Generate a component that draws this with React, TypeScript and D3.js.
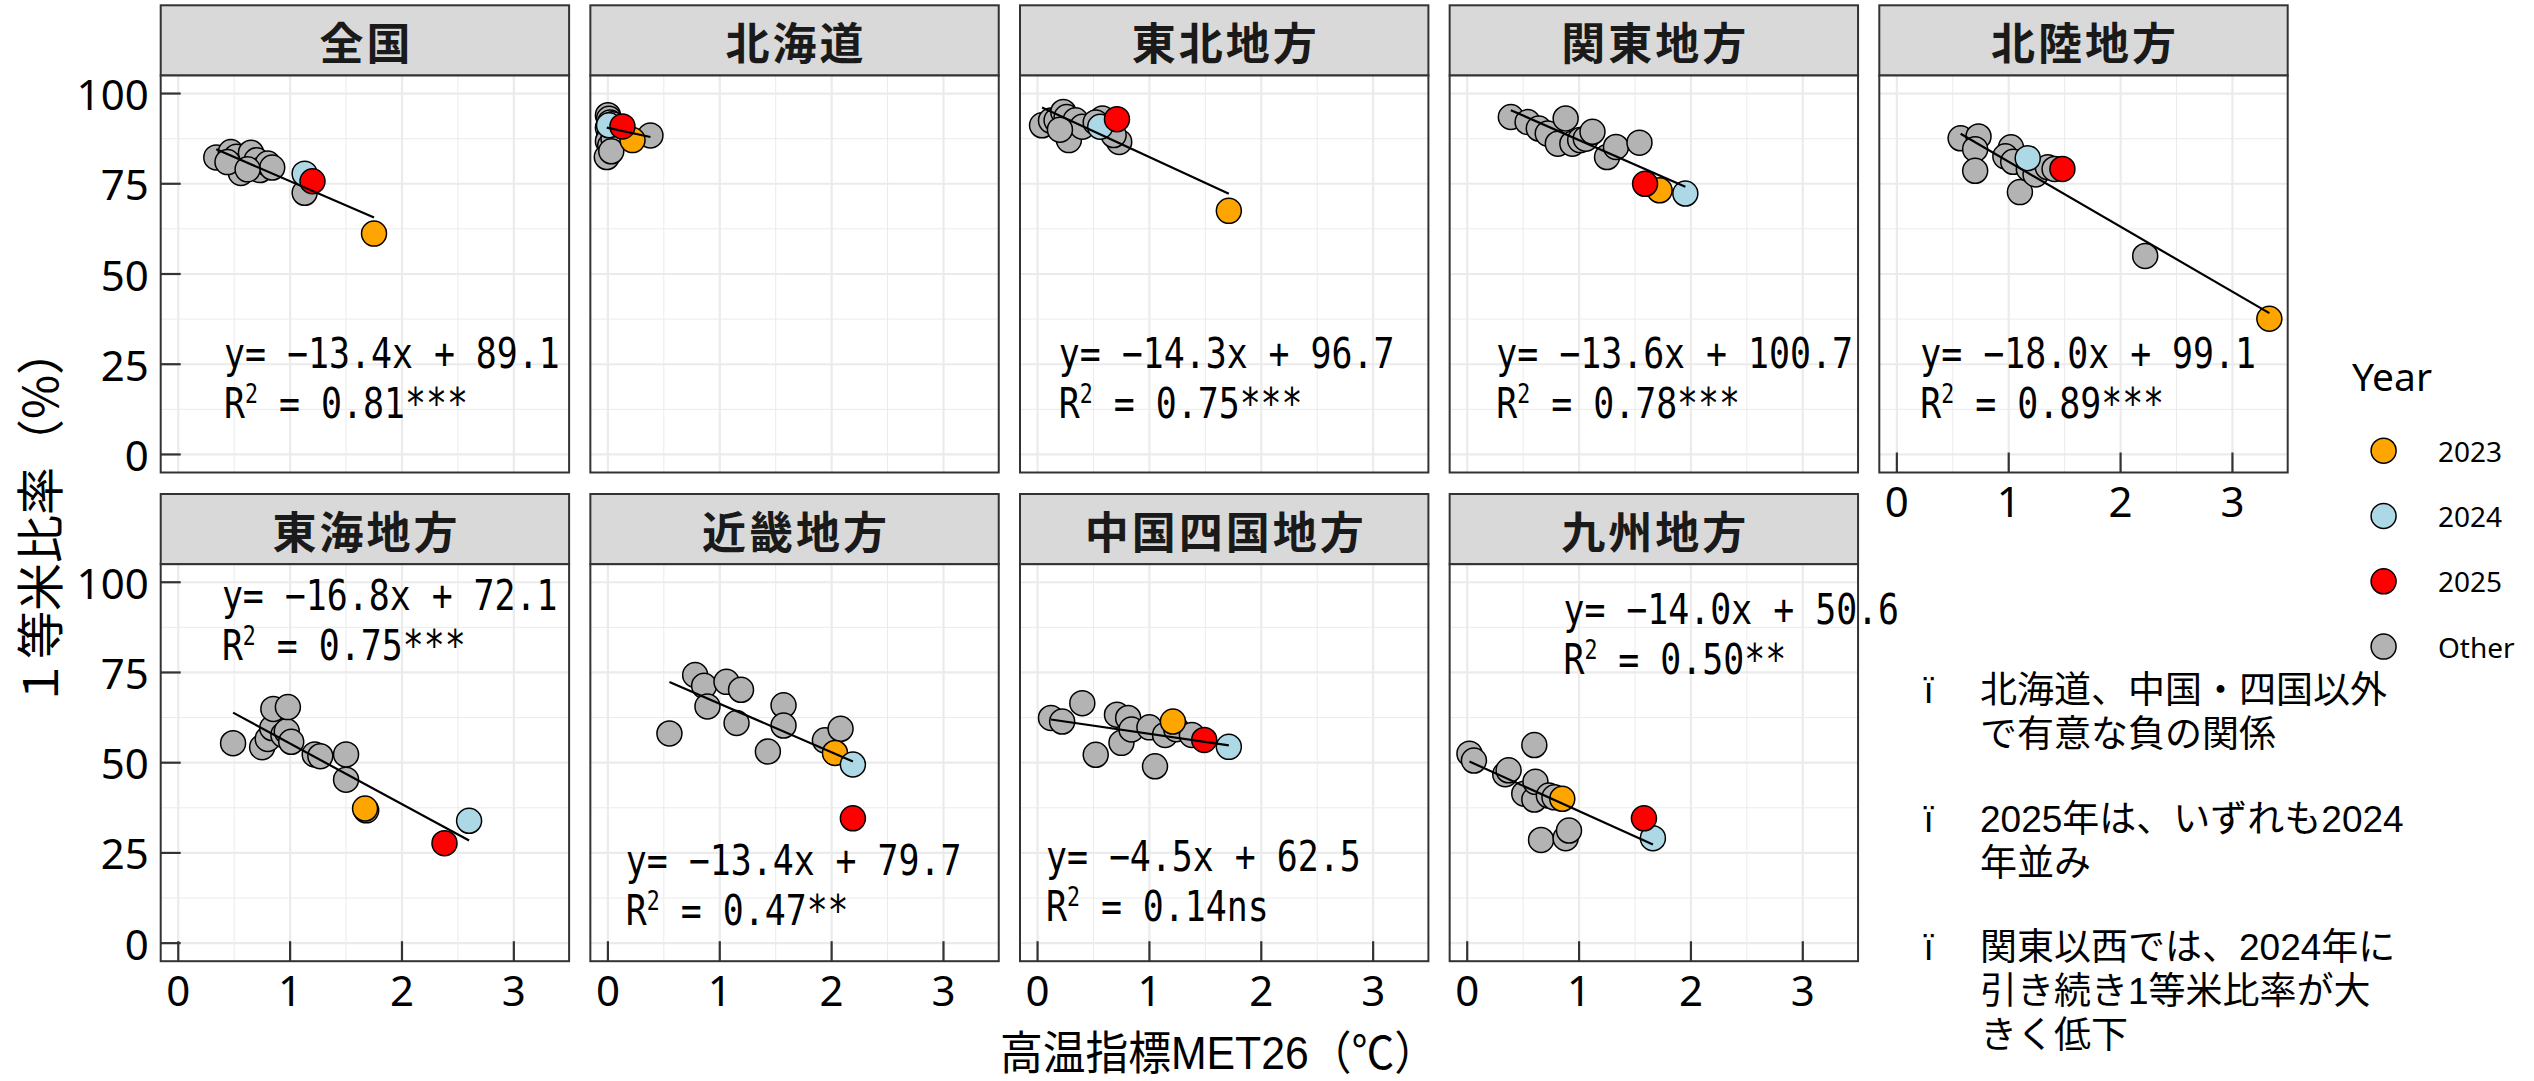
import React from "react";
import * as d3 from "d3";

// ---------- data ----------
const regions = ["全国", "北海道", "東北地方", "関東地方", "北陸地方", "東海地方", "近畿地方", "中国四国地方", "九州地方"];

const otherX: number[][] = [
  [0.34, 0.47, 0.52, 0.56, 0.60, 0.65, 0.70, 0.73, 0.80, 0.84, 0.44, 0.62, 1.13],
  [0.00, 0.01, 0.02, 0.00, 0.03, 0.01, 0.00, 0.02, -0.01, 0.04, 0.05, 0.38, 0.03],
  [0.04, 0.12, 0.17, 0.23, 0.26, 0.34, 0.28, 0.40, 0.20, 0.58, 0.52, 0.73, 0.68],
  [0.39, 0.54, 0.64, 0.72, 0.81, 0.88, 0.94, 1.01, 1.06, 1.12, 1.25, 1.33, 1.54],
  [0.57, 0.73, 0.70, 0.70, 1.02, 0.97, 1.04, 1.10, 1.18, 1.24, 1.35, 1.41, 2.22],
  [0.49, 0.75, 0.80, 0.84, 0.85, 0.94, 0.97, 0.98, 1.01, 1.22, 1.27, 1.50, 1.50, 1.68],
  [0.55, 0.78, 0.86, 0.89, 1.06, 1.19, 1.15, 1.43, 1.57, 1.57, 1.94, 2.08],
  [0.12, 0.22, 0.40, 0.52, 0.71, 0.75, 0.81, 0.84, 1.00, 1.05, 1.14, 1.24, 1.38],
  [0.02, 0.06, 0.34, 0.37, 0.51, 0.60, 0.60, 0.61, 0.66, 0.73, 0.78, 0.88, 0.91],
];
const otherY: number[][] = [
  [82.3, 83.8, 82.5, 78.0, 80.5, 83.6, 81.5, 78.8, 80.6, 79.5, 81.0, 79.0, 72.5],
  [94.0, 93.0, 92.0, 90.5, 89.5, 88.0, 86.8, 85.5, 82.4, 91.5, 87.5, 88.4, 84.0],
  [91.2, 92.5, 92.6, 94.9, 93.5, 92.6, 87.1, 90.8, 90.0, 93.1, 92.0, 86.6, 88.5],
  [93.5, 92.1, 90.3, 88.9, 86.1, 93.1, 86.1, 87.1, 87.5, 89.4, 82.4, 85.2, 86.4],
  [87.6, 88.1, 84.6, 78.6, 85.1, 82.6, 81.1, 72.7, 79.1, 77.6, 79.6, 79.1, 55.0],
  [55.4, 54.3, 56.6, 59.6, 64.9, 57.7, 58.7, 65.4, 55.8, 52.3, 51.8, 52.3, 45.3, 36.8],
  [58.1, 74.3, 71.3, 65.6, 72.4, 70.2, 61.0, 53.1, 65.9, 60.3, 56.2, 59.4],
  [62.4, 61.4, 66.5, 52.2, 63.3, 55.5, 62.4, 59.2, 59.8, 49.0, 57.7, 59.3, 57.7],
  [52.5, 50.6, 46.8, 47.9, 41.4, 54.9, 39.8, 44.7, 28.6, 40.9, 40.4, 29.1, 31.2],
];

const x2023 = [1.75, 0.22, 1.71, 1.72, 3.33, 1.67, 2.03, 1.21, 0.85];
const y2023 = [61.2, 87.1, 67.5, 73.2, 37.6, 37.3, 52.7, 61.4, 40.0];
const x2024 = [1.13, 0.01, 0.56, 1.95, 1.17, 2.60, 2.19, 1.71, 1.66];
const y2024 = [77.8, 91.2, 90.8, 72.3, 82.1, 33.9, 49.5, 54.4, 29.1];
const x2025 = [1.20, 0.13, 0.71, 1.59, 1.48, 2.38, 2.19, 1.49, 1.58];
const y2025 = [75.7, 90.9, 92.9, 75.0, 79.1, 27.7, 34.6, 56.3, 34.6];

const slopes = [-13.4, -6.7, -14.3, -13.6, -18.0, -16.8, -13.4, -4.5, -14.0];
const intercepts = [89.1, 90.5, 96.7, 100.7, 99.1, 72.1, 79.7, 62.5, 50.6];
const r2Labels = ["0.81***", "", "0.75***", "0.78***", "0.89***", "0.75***", "0.47**", "0.14ns", "0.50**"];
const labelX = [0.41, 0, 0.19, 0.26, 0.21, 0.39, 0.16, 0.075, 0.86];
const labelY = [23.96, 0, 23.96, 23.96, 23.96, 92.2, 18.8, 19.9, 88.4];

const xTicks = [0, 1, 2, 3];
const xMinor = [0.5, 1.5, 2.5];
const yTicks = [0, 25, 50, 75, 100];
const yMinor = [12.5, 37.5, 62.5, 87.5];

const legendTitle = "Year";
const legendLabels = ["2023", "2024", "2025", "Other"];
const legendColors = ["#FFA500", "#ADD8E6", "#FF0000", "#B3B3B3"];

const xTitle = "高温指標MET26（℃）";
const yTitle = "１等米比率（%）";

const noteLines = [
  ["北海道、中国・四国以外", "で有意な負の関係"],
  ["2025年は、いずれも2024", "年並み"],
  ["関東以西では、2024年に", "引き続き1等米比率が大", "きく低下"],
];

// ---------- layout ----------
const W = 2534;
const H = 1081;
const col0 = 160.7;
const colStep = 429.65;
const panelW = 408.4;
const plotH = 397;
const stripH = 70.2;
const row0Top = 75.5;
const rowStep = 488.7;
const GRID = "#EBEBEB";
const BORDER = "#333333";
const CJK = "'Noto Sans CJK JP', 'Noto Sans', sans-serif";
const NOTE_FONT = "'Liberation Sans', 'Noto Sans CJK JP', sans-serif";
const SANS = "'Noto Sans', 'DejaVu Sans', sans-serif";
const MONO = "'DejaVu Sans Mono', 'Liberation Mono', monospace";

export default function App() {
  const x = d3.scaleLinear().domain([-0.157, 3.494]).range([0, panelW]);
  const y = d3.scaleLinear().domain([-5, 105]).range([plotH, 0]);
  const line = d3
    .line<[number, number]>()
    .x((d) => x(d[0]))
    .y((d) => y(d[1]));

  const panels = regions.map((name, i) => {
    const row = Math.floor(i / 5);
    const col = i % 5;
    const left = col0 + col * colStep;
    const top = row0Top + row * rowStep;
    const allX = [...otherX[i], x2023[i], x2024[i], x2025[i]];
    const [xmin, xmax] = d3.extent(allX) as [number, number];
    const regPts: [number, number][] = [
      [xmin, intercepts[i] + slopes[i] * xmin],
      [xmax, intercepts[i] + slopes[i] * xmax],
    ];
    const showY = col === 0;
    const showX = row === 1 || col === 4;
    const pts = [
      ...otherX[i].map((v, k) => ({ x: v, y: otherY[i][k], c: legendColors[3] })),
      { x: x2023[i], y: y2023[i], c: legendColors[0] },
      { x: x2024[i], y: y2024[i], c: legendColors[1] },
      { x: x2025[i], y: y2025[i], c: legendColors[2] },
    ];
    const eq = `y= ${slopes[i] < 0 ? "\u2212" : ""}${Math.abs(slopes[i]).toFixed(1)}x + ${intercepts[i].toFixed(1)}`;
    return (
      <g key={name} transform={`translate(${left},${top})`}>
        <rect x={0} y={-stripH} width={panelW} height={stripH} fill="#D9D9D9" stroke={BORDER} strokeWidth={2} />
        <text
          x={panelW / 2 + 1.5}
          y={-stripH / 2 + 1}
          textAnchor="middle"
          dominantBaseline="central"
          fontFamily={CJK}
          fontWeight={700}
          fontSize={44}
          letterSpacing={3}
          fill="#1A1A1A"
        >
          {name}
        </text>
        <rect x={0} y={0} width={panelW} height={plotH} fill="#FFFFFF" />
        {xMinor.map((t) => (
          <line key={"xm" + t} x1={x(t)} x2={x(t)} y1={0} y2={plotH} stroke={GRID} strokeWidth={1} />
        ))}
        {yMinor.map((t) => (
          <line key={"ym" + t} x1={0} x2={panelW} y1={y(t)} y2={y(t)} stroke={GRID} strokeWidth={1} />
        ))}
        {xTicks.map((t) => (
          <line key={"xM" + t} x1={x(t)} x2={x(t)} y1={0} y2={plotH} stroke={GRID} strokeWidth={2.2} />
        ))}
        {yTicks.map((t) => (
          <line key={"yM" + t} x1={0} x2={panelW} y1={y(t)} y2={y(t)} stroke={GRID} strokeWidth={2.2} />
        ))}
        {pts.map((p, k) => (
          <circle key={k} cx={x(p.x)} cy={y(p.y)} r={12.5} fill={p.c} stroke="#000" strokeWidth={1.5} />
        ))}
        <path d={line(regPts) || ""} fill="none" stroke="#000" strokeWidth={2.2} />
        {r2Labels[i] !== "" && (
          <g fontFamily={MONO} fontSize={42} fill="#000">
            <text transform={`translate(${x(labelX[i])},${y(labelY[i])}) scale(0.83,1)`}>{eq}</text>
            <text transform={`translate(${x(labelX[i])},${y(labelY[i]) + 50}) scale(0.83,1)`}>
              R<tspan fontSize={26} dy={-15}>2</tspan>
              <tspan dy={15}>{` = ${r2Labels[i]}`}</tspan>
            </text>
          </g>
        )}
        {showY &&
          yTicks.map((t) => (
            <g key={"yt" + t}>
              <line x1={0} x2={20} y1={y(t)} y2={y(t)} stroke={BORDER} strokeWidth={2.2} />
              <text
                x={-12}
                y={y(t)}
                textAnchor="end"
                dominantBaseline="central"
                fontFamily={SANS}
                fontSize={42}
                fill="#000"
              >
                {t}
              </text>
            </g>
          ))}
        {showX &&
          xTicks.map((t) => (
            <g key={"xt" + t}>
              <line x1={x(t)} x2={x(t)} y1={plotH} y2={plotH - 20} stroke={BORDER} strokeWidth={2.2} />
              <text
                x={x(t)}
                y={plotH + 28}
                textAnchor="middle"
                dominantBaseline="central"
                fontFamily={SANS}
                fontSize={42}
                fill="#000"
              >
                {t}
              </text>
            </g>
          ))}
        <rect x={0} y={0} width={panelW} height={plotH} fill="none" stroke={BORDER} strokeWidth={2} />
      </g>
    );
  });

  const legendTop = 450.7;
  const legendStep = 65.3;
  const noteTop = [690, 819, 947];
  const noteLead = 44;

  return (
    <svg
      width={W}
      height={H}
      viewBox={`0 0 ${W} ${H}`}
      style={{ position: "absolute", left: 0, top: 0, display: "block", background: "#FFFFFF" }}
    >
      <rect x={0} y={0} width={W} height={H} fill="#FFFFFF" />
      {panels}
      <text
        transform="translate(37,517) rotate(-90)"
        textAnchor="middle"
        dominantBaseline="central"
        fontFamily={CJK}
        fontSize={48}
        fill="#000"
      >
        {yTitle}
      </text>
      <text
        x={1000}
        y={1069}
        fontFamily={NOTE_FONT}
        fontSize={46}
        textLength={437}
        lengthAdjust="spacingAndGlyphs"
        fill="#000"
      >
        {xTitle}
      </text>
      <text x={2352} y={391} fontFamily={SANS} fontSize={39} fill="#000">
        {legendTitle}
      </text>
      {legendLabels.map((lab, k) => (
        <g key={lab}>
          <circle cx={2383.6} cy={legendTop + k * legendStep} r={12.5} fill={legendColors[k]} stroke="#000" strokeWidth={1.5} />
          <text
            x={2438}
            y={legendTop + k * legendStep}
            dominantBaseline="central"
            fontFamily={SANS}
            fontSize={28}
            fill="#000"
          >
            {lab}
          </text>
        </g>
      ))}
      {noteLines.map((lines, b) => (
        <g key={b} fontFamily={NOTE_FONT} fontSize={37} fill="#000">
          <text x={1923.6} y={noteTop[b]} dominantBaseline="central">
            ï
          </text>
          {lines.map((t, k) => (
            <text key={k} x={1980} y={noteTop[b] + k * noteLead} dominantBaseline="central">
              {t}
            </text>
          ))}
        </g>
      ))}
    </svg>
  );
}
